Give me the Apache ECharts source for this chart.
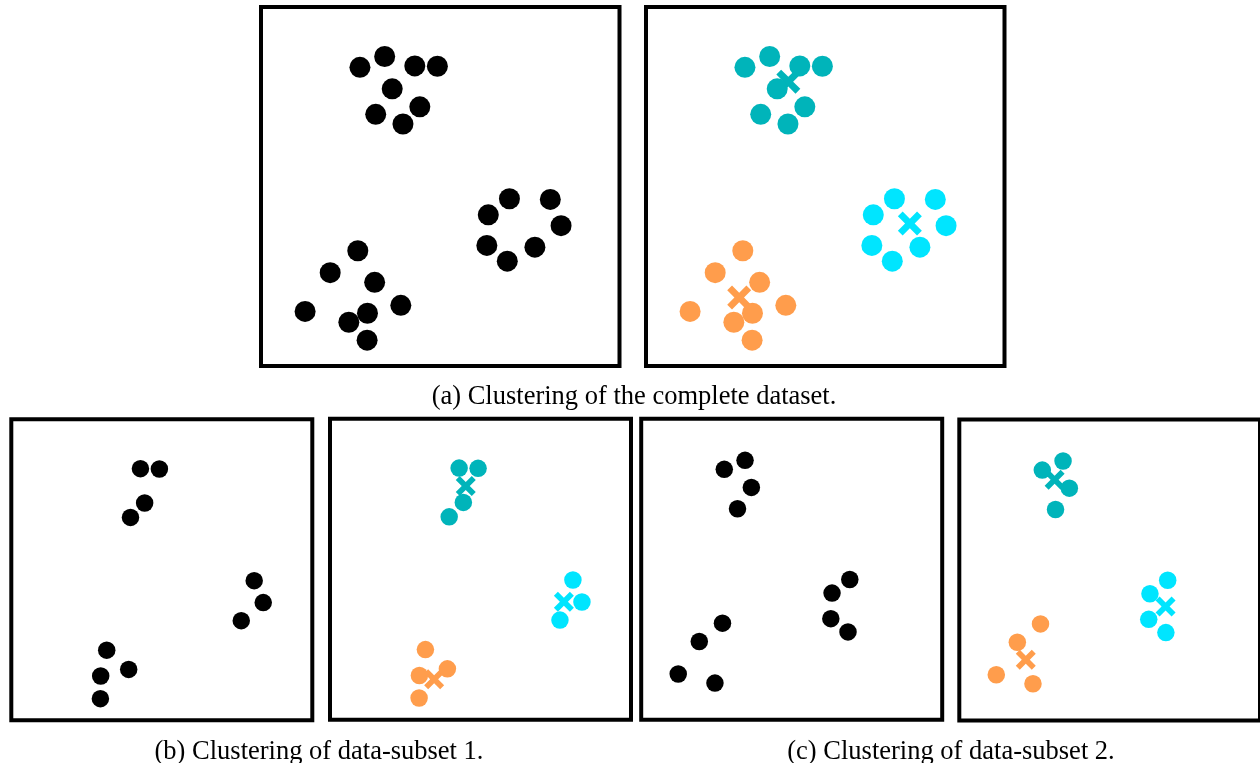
<!DOCTYPE html>
<html>
<head>
<meta charset="utf-8">
<style>
  html, body { margin: 0; padding: 0; background: #fff; }
  #chart { width: 1260px; height: 763px; }
</style>
<script src="https://cdn.jsdelivr.net/npm/echarts@6/dist/echarts.min.js"></script>
</head>
<body>
<div id="chart"></div>
<script>
// Complete dataset (unit square scaled to 0..100, y pointing up)
const pointX = [27.6, 34.5, 42.9, 49.2, 36.6, 44.3, 32.0, 39.6,
                69.3, 80.7, 63.4, 83.7, 63.0, 76.4, 68.7,
                27.0, 19.3, 31.7, 12.3, 39.0, 29.7, 24.5, 29.6];
const pointY = [83.2, 86.2, 83.6, 83.5, 77.2, 72.2, 70.1, 67.4,
                46.6, 46.4, 42.1, 39.1, 33.6, 33.1, 29.2,
                32.1, 26.0, 23.3, 15.2, 16.9, 14.7, 12.2, 7.2];
// Cluster label of each point
const pointCluster = [0, 0, 0, 0, 0, 0, 0, 0,
                      1, 1, 1, 1, 1, 1, 1,
                      2, 2, 2, 2, 2, 2, 2, 2];

// Indices of the points in each data subset
const subset1 = [2, 3, 5, 7, 9, 11, 13, 17, 19, 20, 22];
const subset2 = [0, 1, 4, 6, 8, 10, 12, 14, 15, 16, 18, 21];

// Cluster centres found on each dataset
const centreFullX = [39.7, 73.6, 26.0];
const centreFullY = [79.2, 39.7, 19.1];
const centreSub1X = [45.1, 77.7, 34.6];
const centreSub1Y = [77.6, 39.2, 13.4];
const centreSub2X = [31.7, 68.6, 22.1];
const centreSub2Y = [80.0, 37.9, 20.2];

// Sub-figure captions
const captions = [
  '(a) Clustering of the complete dataset.',
  '(b) Clustering of data-subset 1.',
  '(c) Clustering of data-subset 2.'
];

const clusterColors = ['#00b4ba', '#00e5ff', '#ff9d4c'];
const crossPath = 'path://M0,2L2,0L5,3L8,0L10,2L7,5L10,8L8,10L5,7L2,10L0,8L3,5Z';

const allIdx = pointX.map((_, i) => i);

// Panel frames (pixel rectangles) and what each one shows
const panels = [
  { rect: [261, 7, 358.5, 359], idx: allIdx, centres: null, dot: 21, cross: 24 },
  { rect: [646, 7, 358.5, 359], idx: allIdx, centres: [centreFullX, centreFullY], dot: 21, cross: 24 },
  { rect: [11.3, 419.3, 301, 301], idx: subset1, centres: null, dot: 17.5, cross: 20 },
  { rect: [330, 418.7, 301, 301], idx: subset1, centres: [centreSub1X, centreSub1Y], dot: 17.5, cross: 20 },
  { rect: [641.2, 418.8, 301, 301], idx: subset2, centres: null, dot: 17.5, cross: 20 },
  { rect: [959.3, 419.5, 301, 301], idx: subset2, centres: [centreSub2X, centreSub2Y], dot: 17.5, cross: 20 }
];

const grid = [], xAxis = [], yAxis = [], series = [];
panels.forEach((p, k) => {
  grid.push({
    left: p.rect[0], top: p.rect[1], width: p.rect[2], height: p.rect[3],
    show: true, borderColor: '#000', borderWidth: 4, backgroundColor: '#fff',
    containLabel: false
  });
  xAxis.push({ type: 'value', gridIndex: k, min: 0, max: 100, show: false });
  yAxis.push({ type: 'value', gridIndex: k, min: 0, max: 100, show: false });

  const coloured = !!p.centres;
  if (coloured) {
    series.push({
      type: 'scatter', xAxisIndex: k, yAxisIndex: k, z: 2,
      symbol: crossPath, symbolSize: p.cross, silent: true,
      data: p.centres[0].map((x, c) => ({
        value: [x, p.centres[1][c]],
        itemStyle: { color: clusterColors[c], opacity: 1 }
      }))
    });
  }
  series.push({
    type: 'scatter', xAxisIndex: k, yAxisIndex: k, z: 3,
    symbol: 'circle', symbolSize: p.dot, silent: true,
    data: p.idx.map(i => ({
      value: [pointX[i], pointY[i]],
      itemStyle: { color: coloured ? clusterColors[pointCluster[i]] : '#000', opacity: 1 }
    }))
  });
});

const captionFont = { fontFamily: 'Liberation Serif', fontSize: 26.5, fill: '#000' };
const chart = echarts.init(document.getElementById('chart'), null, { renderer: 'canvas' });
chart.setOption({
  animation: false,
  backgroundColor: '#fff',
  grid, xAxis, yAxis, series,
  graphic: [
    { type: 'text', x: 634, y: 397, style: Object.assign({ text: captions[0], align: 'center', verticalAlign: 'middle' }, captionFont) },
    { type: 'text', x: 319, y: 752, style: Object.assign({ text: captions[1], align: 'center', verticalAlign: 'middle' }, captionFont) },
    { type: 'text', x: 951, y: 752, style: Object.assign({ text: captions[2], align: 'center', verticalAlign: 'middle' }, captionFont) }
  ]
});
</script>
</body>
</html>
